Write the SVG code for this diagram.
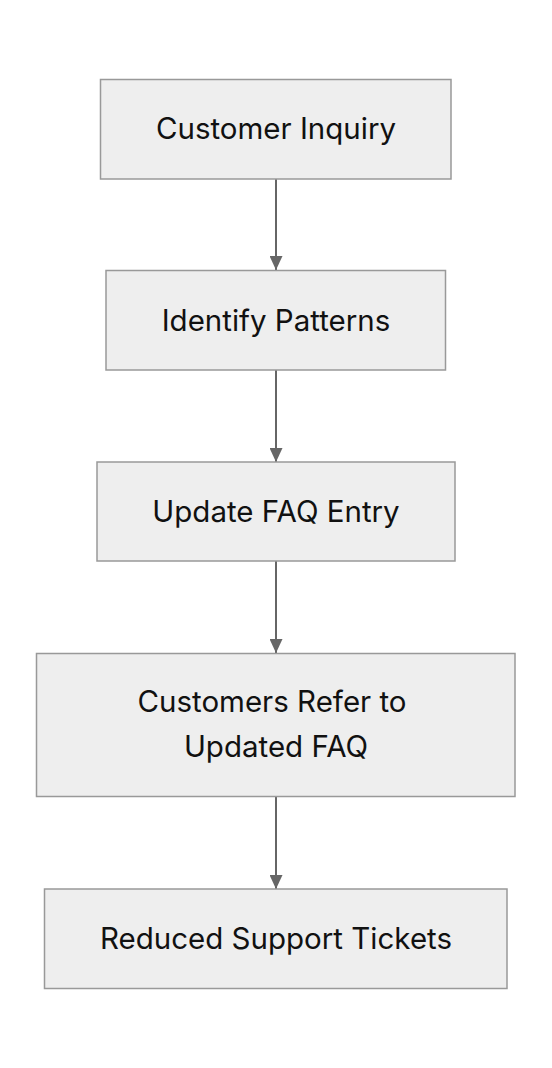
<svg xmlns="http://www.w3.org/2000/svg" width="552" height="1068" viewBox="0 0 552 1068">
<style>
.node rect{fill:#eeeeee;stroke:#999999;stroke-width:1.5}
.node text{font-family:Inter,"Liberation Sans",sans-serif;font-size:29.5px;fill:#111111;text-anchor:middle}
.edge{stroke:#666666;stroke-width:2;fill:none}
</style>
<defs>
<marker id="arrow" viewBox="0 0 14 13" refX="14" refY="6.5" markerWidth="14" markerHeight="13" markerUnits="userSpaceOnUse" orient="auto">
<path d="M0,0 L14,6.5 L0,13 z" fill="#666666"/>
</marker>
</defs>
<rect width="552" height="1068" fill="#ffffff"/>
<g id="connectors">
<line class="edge" x1="276" y1="179" x2="276" y2="270" marker-end="url(#arrow)"/>
<line class="edge" x1="276" y1="370" x2="276" y2="462" marker-end="url(#arrow)"/>
<line class="edge" x1="276" y1="561" x2="276" y2="653" marker-end="url(#arrow)"/>
<line class="edge" x1="276" y1="797" x2="276" y2="889" marker-end="url(#arrow)"/>
</g>
<g id="n1" class="node">
<rect x="100.5" y="79.5" width="350.5" height="99.5"/>
<text x="276" y="139">Customer Inquiry</text>
</g>
<g id="n2" class="node">
<rect x="106" y="270.5" width="339.5" height="99.5"/>
<text x="276" y="331">Identify Patterns</text>
</g>
<g id="n3" class="node">
<rect x="97" y="462" width="358" height="99"/>
<text x="276" y="522">Update FAQ Entry</text>
</g>
<g id="n4" class="node">
<rect x="36.5" y="653.5" width="478.5" height="143"/>
<text x="272" y="712">Customers Refer to</text>
<text x="276" y="757">Updated FAQ</text>
</g>
<g id="n5" class="node">
<rect x="44.5" y="889" width="462.5" height="99.5"/>
<text x="276" y="949">Reduced Support Tickets</text>
</g>
</svg>
